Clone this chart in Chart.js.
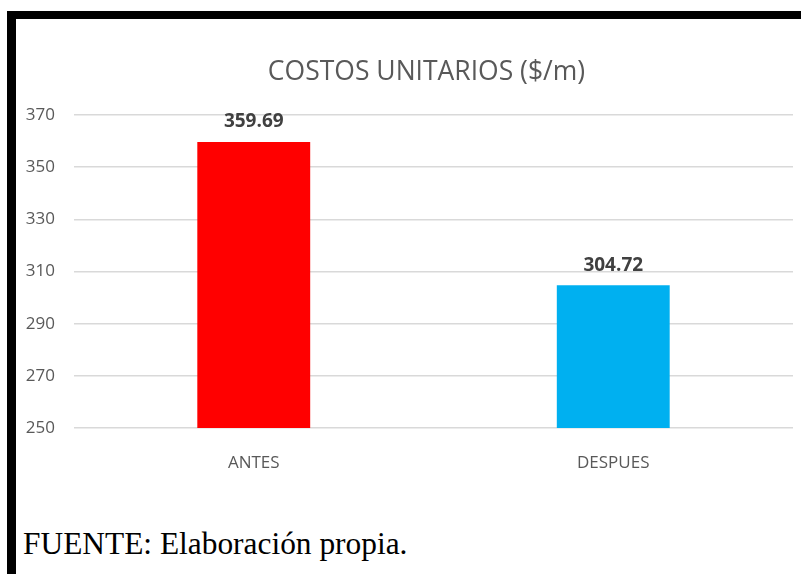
<!DOCTYPE html>
<html>
<head>
<meta charset="utf-8">
<script src="https://cdn.jsdelivr.net/npm/chart.js@4"></script>
<style>
  html, body { margin: 0; padding: 0; background: #fff; }
  body { width: 801px; height: 574px; position: relative; overflow: hidden; }
  .frame-top { position: absolute; left: 7px; top: 11px; width: 794px; height: 8px; background: #000; }
  .frame-left { position: absolute; left: 7px; top: 11px; width: 9px; height: 563px; background: #000; }
  .box { position: absolute; left: 16px; top: 19px; width: 785px; height: 470px; }
  .fuente { position: absolute; left: 23px; top: 528px; font-family: "Liberation Serif", "Times New Roman", serif; font-size: 31.4px; line-height: 32px; color: #000; white-space: nowrap; }
</style>
</head>
<body>
<div class="frame-top"></div>
<div class="frame-left"></div>
<div class="box"><canvas id="costChart" width="785" height="470"></canvas></div>
<div class="fuente">FUENTE: Elaboración propia.</div>
<script>
const categories = ["ANTES", "DESPUES"];
const costValues = [359.69, 304.72];
const barColors = ["#FF0000", "#00B0F0"];
const yTicks = [250, 270, 290, 310, 330, 350, 370];
const chartTitle = "COSTOS UNITARIOS ($/m)";

const textGray = "#595959";
const fontFamily = "'Open Sans', 'Liberation Sans', sans-serif";

// title sits a little left of the plot centre
const titleText = {
    id: "titleText",
    afterDraw(chart) {
        const ctx = chart.ctx;
        const area = chart.chartArea;
        ctx.save();
        ctx.font = "26.5px " + fontFamily;
        ctx.fillStyle = textGray;
        ctx.textAlign = "center";
        ctx.textBaseline = "alphabetic";
        ctx.fillText(chartTitle, (area.left + area.right) / 2 - 7, 61);
        ctx.restore();
    },
};

// value labels above each bar
const valueLabels = {
    id: "valueLabels",
    afterDatasetsDraw(chart) {
        const ctx = chart.ctx;
        const meta = chart.getDatasetMeta(0);
        ctx.save();
        ctx.font = "bold 19px " + fontFamily;
        ctx.fillStyle = "#404040";
        ctx.textAlign = "center";
        ctx.textBaseline = "alphabetic";
        meta.data.forEach((bar, i) => {
            ctx.fillText(costValues[i].toFixed(2), bar.x, bar.y - 14.5);
        });
        ctx.restore();
    },
};

const ctx = document.getElementById("costChart").getContext("2d");

const chart = new Chart(ctx, {
    type: "bar",
    data: {
        labels: categories,
        datasets: [
            {
                label: chartTitle,
                data: costValues,
                backgroundColor: barColors,
                borderWidth: 0,
                barPercentage: 0.314,
                categoryPercentage: 1,
            },
        ],
    },
    options: {
        responsive: false,
        animation: false,
        layout: {
            padding: { top: 96, right: 8, bottom: 0, left: 0 },
        },
        plugins: {
            legend: { display: false },
            tooltip: { enabled: false },
            title: { display: false },
        },
        scales: {
            x: {
                grid: { display: false },
                border: { display: false },
                ticks: {
                    color: textGray,
                    font: { family: fontFamily, size: 17 },
                    padding: 17,
                },
                afterFit(scale) {
                    scale.height = 61;
                },
            },
            y: {
                min: 250,
                max: 370,
                afterBuildTicks(scale) {
                    scale.ticks = yTicks.map((v) => ({ value: v }));
                },
                grid: { color: "#D9D9D9", lineWidth: 1.5, drawTicks: false },
                border: { display: false },
                ticks: {
                    color: textGray,
                    font: { family: fontFamily, size: 17 },
                    padding: 19,
                },
                afterFit(scale) {
                    scale.width = 58;
                },
            },
        },
    },
    plugins: [valueLabels, titleText],
});
</script>
</body>
</html>
